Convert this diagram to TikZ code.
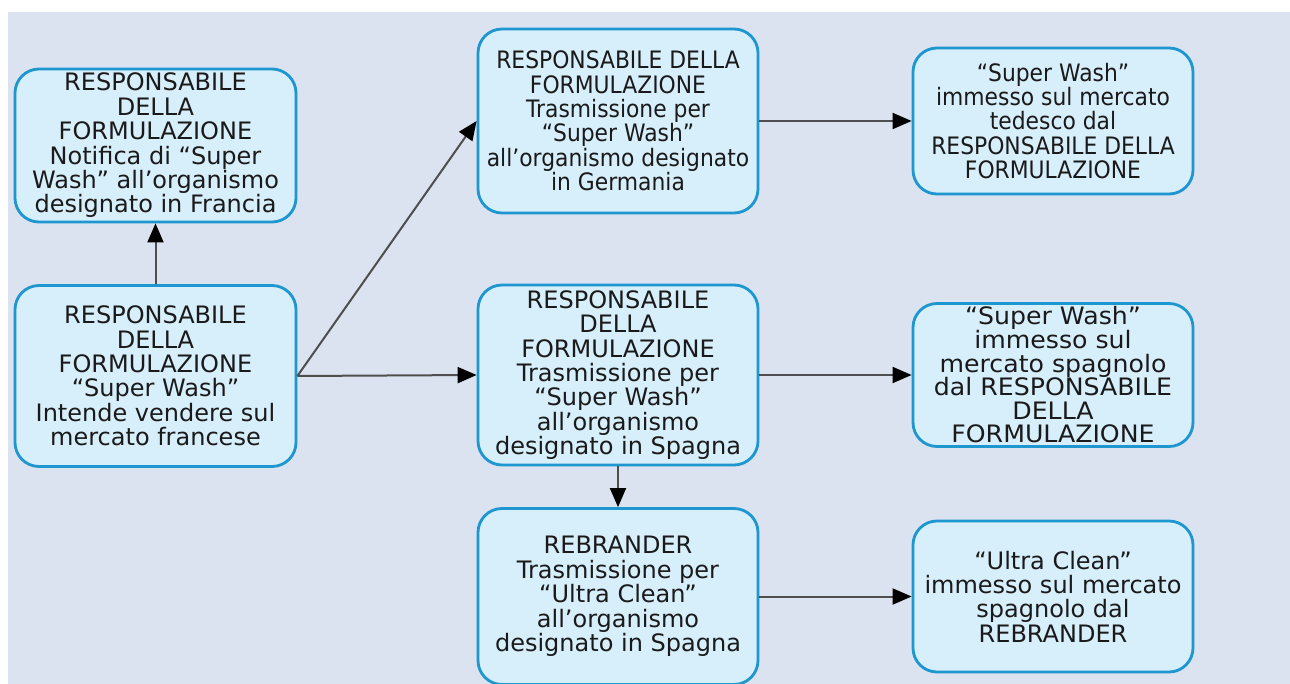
\documentclass[tikz,border=0pt]{standalone}
\usepackage{fontspec}
\setmainfont{DejaVu Sans}
\newfontfamily\narrowfont{DejaVu Sans}[FakeStretch=0.91]
\newfontfamily\widefont{DejaVu Sans}[FakeStretch=1.05]
\usetikzlibrary{arrows.meta}
\definecolor{canvas}{HTML}{DAE3EF}
\definecolor{boxfill}{HTML}{D7EEFB}
\definecolor{boxline}{HTML}{1E96D0}
\definecolor{inkcol}{HTML}{1A1A1A}
\definecolor{linkcol}{HTML}{4E4E4E}
\tikzset{
  stepbox/.style={draw=boxline, line width=2.8pt, fill=boxfill, rounded corners=24pt,
    inner sep=0pt, align=center, text=inkcol,
    font=\fontsize{24}{24.4}\selectfont},
  link/.style={draw=linkcol, line width=2pt,
    -{Triangle[length=19pt,width=16pt,fill=black,color=black]}}
}
\begin{document}
\begin{tikzpicture}[x=1pt,y=-1pt]
  % page and canvas
  \fill[white] (0,0) rectangle (1290,684);
  \fill[canvas] (8,12) rectangle (1290,684);
  \useasboundingbox (0,0) rectangle (1290,684);

  % left column
  \node[stepbox, minimum width=281pt, minimum height=153pt] (notFR) at (155.5,145.5)
    {RESPONSABILE\\DELLA\\FORMULAZIONE\\Notifica di “Super\\Wash” all’organismo\\designato in Francia};
  \node[stepbox, minimum width=281pt, minimum height=181pt] (start) at (155.5,376)
    {RESPONSABILE\\DELLA\\FORMULAZIONE\\“Super Wash”\\Intende vendere sul\\mercato francese};

  % middle column
  \node[stepbox, minimum width=280pt, minimum height=184pt, font=\narrowfont\fontsize{24}{24.4}\selectfont] (trDE) at (618,121)
    {RESPONSABILE DELLA\\FORMULAZIONE\\Trasmissione per\\“Super Wash”\\all’organismo designato\\in Germania};
  \node[stepbox, minimum width=280pt, minimum height=180pt] (trES) at (618,375)
    {RESPONSABILE\\DELLA\\FORMULAZIONE\\Trasmissione per\\“Super Wash”\\all’organismo\\designato in Spagna};
  \node[stepbox, minimum width=280pt, minimum height=176pt] (trRB) at (618,596.5)
    {REBRANDER\\Trasmissione per\\“Ultra Clean”\\all’organismo\\designato in Spagna};

  % right column
  \node[stepbox, minimum width=280pt, minimum height=146pt, font=\narrowfont\fontsize{24}{24.4}\selectfont] (mkDE) at (1053,121)
    {“Super Wash”\\immesso sul mercato\\tedesco dal\\RESPONSABILE DELLA\\FORMULAZIONE};
  \node[stepbox, minimum width=280pt, minimum height=143pt, font=\widefont\fontsize{24}{23.6}\selectfont] (mkES) at (1053,375)
    {“Super Wash”\\immesso sul\\mercato spagnolo\\dal RESPONSABILE\\DELLA\\FORMULAZIONE};
  \node[stepbox, minimum width=280pt, minimum height=151pt] (mkRB) at (1053,596.5)
    {“Ultra Clean”\\immesso sul mercato\\spagnolo dal\\REBRANDER};

  % connectors
  \draw[link] (start.north) -- (notFR.south);
  \draw[link] (start.east) -- (trDE.west);
  \draw[link] (start.east) -- (trES.west);
  \draw[link] (trDE.east) -- (mkDE.west);
  \draw[link] (trES.east) -- (mkES.west);
  \draw[link] (trES.south) -- (trRB.north);
  \draw[link] (trRB.east) -- (mkRB.west);
\end{tikzpicture}
\end{document}
